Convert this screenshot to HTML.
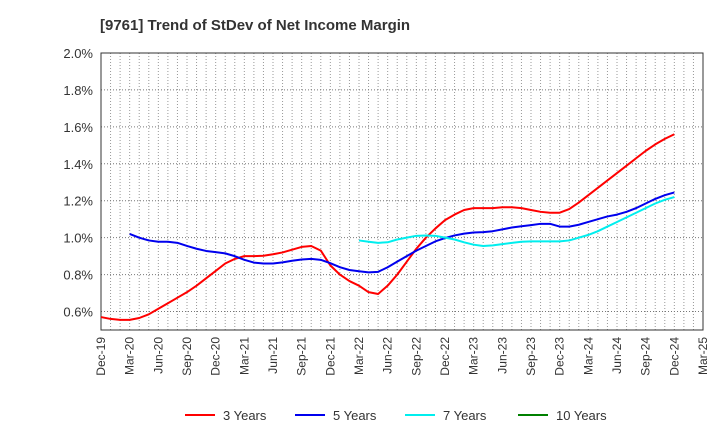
<!DOCTYPE html>
<html><head><meta charset="utf-8"><style>
body{margin:0;background:#fff;font-family:"Liberation Sans",sans-serif}
svg text{font-family:"Liberation Sans",sans-serif;fill:#333}
</style></head><body>
<svg id="c" width="720" height="440">
<text x="100" y="30" font-size="15" font-weight="bold">[9761]  Trend of StDev of Net Income Margin</text>
<g id="grid"></g><g id="axes"></g><g id="series"></g><g id="legend"></g>
</svg>
<script>
const xLabels=["Dec-19","Mar-20","Jun-20","Sep-20","Dec-20","Mar-21","Jun-21","Sep-21","Dec-21","Mar-22","Jun-22","Sep-22","Dec-22","Mar-23","Jun-23","Sep-23","Dec-23","Mar-24","Jun-24","Sep-24","Dec-24","Mar-25"];
const yTicks=[0.6,0.8,1.0,1.2,1.4,1.6,1.8,2.0];
const red3=[0.57,0.56,0.555,0.555,0.565,0.585,0.615,0.645,0.675,0.705,0.74,0.78,0.82,0.86,0.885,0.9,0.9,0.902,0.91,0.92,0.935,0.95,0.955,0.93,0.85,0.8,0.765,0.74,0.705,0.695,0.74,0.8,0.87,0.94,1.0,1.05,1.095,1.125,1.15,1.16,1.16,1.16,1.165,1.165,1.16,1.15,1.14,1.135,1.135,1.155,1.19,1.23,1.27,1.31,1.35,1.39,1.43,1.47,1.505,1.535,1.56];
const red3Start=0;
const blue5=[1.02,1.0,0.985,0.978,0.978,0.972,0.955,0.94,0.928,0.922,0.915,0.9,0.88,0.865,0.86,0.86,0.866,0.875,0.882,0.885,0.88,0.862,0.84,0.825,0.818,0.812,0.815,0.84,0.87,0.9,0.93,0.955,0.98,0.998,1.012,1.022,1.028,1.03,1.035,1.045,1.055,1.062,1.068,1.075,1.075,1.06,1.06,1.07,1.085,1.1,1.115,1.125,1.14,1.16,1.185,1.21,1.23,1.245];
const blue5Start=3;
const cyan7=[0.985,0.978,0.972,0.975,0.99,1.0,1.01,1.012,1.01,1.0,0.99,0.975,0.962,0.955,0.958,0.965,0.972,0.978,0.98,0.98,0.98,0.98,0.985,1.0,1.015,1.035,1.06,1.085,1.11,1.135,1.16,1.185,1.205,1.22];
const cyan7Start=27;
const green10=[];
const green10Start=0;

const L=101,R=703,T=53,B=330,yMin=0.5,yMax=2.0,months=63;
const X=m=>L+(R-L)*m/months;
const Y=v=>B-(B-T)*(v-yMin)/(yMax-yMin);
const NS="http://www.w3.org/2000/svg";
function mk(tag,attrs,parent){const e=document.createElementNS(NS,tag);for(const k in attrs)e.setAttribute(k,attrs[k]);parent.appendChild(e);return e;}
const grid=document.getElementById('grid'),axes=document.getElementById('axes'),series=document.getElementById('series'),legend=document.getElementById('legend');
for(let m=1;m<months;m++){const l=mk('line',{x1:X(m),x2:X(m),y1:T,y2:B,stroke:'#999','stroke-width':1,'stroke-dasharray':'1,2'},grid);

}
yTicks.forEach(v=>{const l=mk('line',{x1:L,x2:R,y1:Y(v),y2:Y(v),stroke:'#777','stroke-width':1,'stroke-dasharray':'1,2'},grid);


const t=mk('text',{x:L-8,y:Y(v)+5,'font-size':13,'text-anchor':'end'},axes);t.textContent=v.toFixed(1)+'%';

});
const fr=mk('rect',{x:L,y:T,width:R-L,height:B-T,fill:'none',stroke:'#333','stroke-width':1},axes);


xLabels.forEach((s,i)=>{const x=X(i*3);const t=mk('text',{x:0,y:0,'font-size':12,'text-anchor':'end',transform:`translate(${x+4},${B+7}) rotate(-90)`},axes);t.textContent=s;

});
function draw(arr,start,color,name){if(!arr.length)return;const p=mk('polyline',{points:arr.map((v,i)=>X(start+i)+','+Y(v)).join(' '),fill:'none',stroke:color,'stroke-width':2,'stroke-linejoin':'round'},series);

}
draw(red3,red3Start,'#ff0000','line-3-years');
draw(blue5,blue5Start,'#0000ee','line-5-years');
draw(cyan7,cyan7Start,'#00eeee','line-7-years');
draw(green10,green10Start,'#008000','line-10-years');
[['3 Years','#ff0000',185],['5 Years','#0000ee',295],['7 Years','#00eeee',405],['10 Years','#008000',518]].forEach(([s,c,x])=>{
const g=mk('g',{},legend);


mk('line',{x1:x,x2:x+30,y1:415,y2:415,stroke:c,'stroke-width':2},g);
const t=mk('text',{x:x+38,y:420,'font-size':13},g);t.textContent=s;});
</script>
</body></html>
